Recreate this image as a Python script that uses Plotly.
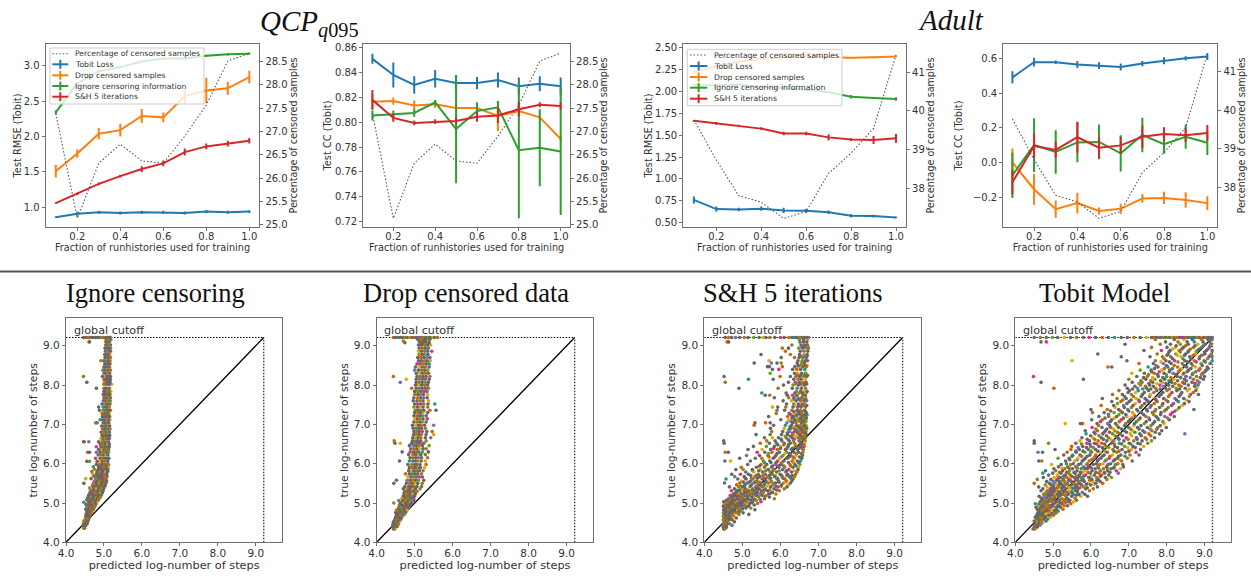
import plotly.graph_objects as go

W, H = 1251, 576
fractions = [0.1, 0.2, 0.3, 0.4, 0.5, 0.6, 0.7, 0.8, 0.9, 1.0]
series_names = ["Tobit Loss", "Drop censored samples", "Ignore censoring information", "S&H 5 iterations"]
pct_name = "Percentage of censored samples"

qcp_pct = [27.39, 25.14, 26.32, 26.73, 26.37, 26.32, 26.9, 27.57, 28.51, 28.68]
adult_pct = [39.77, 38.73, 37.81, 37.64, 37.22, 37.4, 38.39, 38.91, 39.55, 41.45]

qcp_rmse = [0.86, 0.91, 0.93, 0.92, 0.93, 0.93, 0.92, 0.94, 0.93, 0.94]
qcp_rmse_err = [0.01, 0.03, 0.02, 0.02, 0.02, 0.02, 0.02, 0.02, 0.02, 0.02]
qcp_drop = [1.51, 1.76, 2.04, 2.09, 2.29, 2.27, 2.57, 2.65, 2.68, 2.84]
qcp_drop_err = [0.09, 0.06, 0.08, 0.09, 0.10, 0.07, 0.10, 0.18, 0.09, 0.09]
qcp_ign = [2.34, 2.75, 2.92, 2.98, 3.06, 3.10, 3.10, 3.14, 3.16, 3.17]
qcp_ign_err = [0.03, 0.02, 0.02, 0.02, 0.02, 0.02, 0.02, 0.015, 0.015, 0.015]
qcp_sh = [1.06, 1.19, 1.33, 1.44, 1.54, 1.62, 1.78, 1.86, 1.90, 1.94]
qcp_sh_err = [0.01, 0.02, 0.02, 0.02, 0.04, 0.04, 0.05, 0.04, 0.04, 0.04]

qcp_cc = [0.851, 0.838, 0.830, 0.835, 0.8315, 0.8315, 0.834, 0.829, 0.831, 0.829]
qcp_cc_err = [0.004, 0.010, 0.007, 0.007, 0.006, 0.005, 0.006, 0.007, 0.006, 0.007]
qcp_cc_drop = [0.8165, 0.817, 0.8135, 0.8145, 0.8115, 0.8115, 0.805, 0.809, 0.804, 0.7865]
qcp_cc_drop_err = [0.006, 0.003, 0.004, 0.003, 0.002, 0.003, 0.012, 0.003, 0.002, 0.002]
qcp_cc_ign = [0.8055, 0.8065, 0.8075, 0.816, 0.7945, 0.809, 0.812, 0.7775, 0.7795, 0.7765]
qcp_cc_ign_err = [0.004, 0.003, 0.003, 0.002, 0.0435, 0.007, 0.005, 0.0547, 0.031, 0.051]
qcp_cc_sh = [0.818, 0.8035, 0.7995, 0.8005, 0.801, 0.8045, 0.8055, 0.8105, 0.814, 0.813]
qcp_cc_sh_err = [0.008, 0.003, 0.002, 0.002, 0.003, 0.004, 0.006, 0.006, 0.002, 0.003]

adult_rmse = [0.76, 0.655, 0.65, 0.66, 0.64, 0.635, 0.62, 0.58, 0.575, 0.56]
adult_rmse_err = [0.04, 0.03, 0.02, 0.025, 0.03, 0.025, 0.02, 0.02, 0.015, 0.01]
adult_drop = [2.22, 2.29, 2.34, 2.37, 2.39, 2.40, 2.39, 2.385, 2.39, 2.40]
adult_drop_err = [0.02, 0.01, 0.01, 0.01, 0.01, 0.01, 0.01, 0.01, 0.01, 0.01]
adult_ign = [2.07, 2.07, 2.08, 2.05, 2.04, 2.02, 1.99, 1.94, 1.925, 1.915]
adult_ign_err = [0.01, 0.01, 0.01, 0.01, 0.01, 0.01, 0.01, 0.02, 0.01, 0.02]
adult_sh = [1.665, 1.635, 1.61, 1.575, 1.52, 1.52, 1.475, 1.45, 1.445, 1.465]
adult_sh_err = [0.01, 0.015, 0.01, 0.015, 0.02, 0.02, 0.035, 0.015, 0.045, 0.05]

adult_cc = [0.49, 0.578, 0.577, 0.565, 0.558, 0.55, 0.57, 0.586, 0.60, 0.61]
adult_cc_err = [0.035, 0.025, 0.01, 0.02, 0.02, 0.02, 0.015, 0.02, 0.012, 0.02]
adult_cc_drop = [0.0, -0.155, -0.27, -0.235, -0.28, -0.268, -0.208, -0.205, -0.217, -0.235]
adult_cc_drop_err = [0.08, 0.09, 0.05, 0.06, 0.02, 0.03, 0.025, 0.035, 0.045, 0.04]
adult_cc_ign = [-0.075, 0.10, 0.06, 0.115, 0.118, 0.052, 0.158, 0.105, 0.148, 0.113]
adult_cc_ign_err = [0.13, 0.155, 0.125, 0.115, 0.10, 0.105, 0.10, 0.055, 0.07, 0.07]
adult_cc_sh = [-0.115, 0.095, 0.072, 0.145, 0.085, 0.098, 0.148, 0.163, 0.157, 0.17]
adult_cc_sh_err = [0.07, 0.07, 0.045, 0.09, 0.06, 0.05, 0.065, 0.04, 0.04, 0.045]

cutoff = 9.21
axis_lo = 4.0

# (true log-steps, [predicted log-steps at that level])
ignore_rows = [
 (4.36,[4.47,4.49]),(4.42,[4.45,4.48,4.52]),(4.48,[4.46,4.5,4.53,4.56]),(4.54,[4.47,4.51,4.55,4.58]),
 (4.6,[4.5,4.54,4.57,4.6]),(4.66,[4.52,4.55,4.59,4.62]),(4.72,[4.53,4.57,4.61,4.65]),(4.78,[4.55,4.59,4.63,4.68]),
 (4.84,[4.52,4.57,4.62,4.66,4.72]),(4.9,[4.55,4.6,4.65,4.7,4.76]),(4.96,[4.53,4.6,4.66,4.72,4.78]),
 (5.02,[4.47,4.6,4.65,4.7,4.76,4.82]),(5.08,[4.55,4.62,4.68,4.74,4.8,4.86]),(5.14,[4.58,4.66,4.72,4.78,4.84,4.9]),
 (5.2,[4.6,4.68,4.74,4.8,4.86,4.93]),(5.26,[4.63,4.7,4.76,4.82,4.88,4.96]),(5.32,[4.65,4.72,4.79,4.85,4.91,4.98]),
 (5.38,[4.62,4.72,4.8,4.86,4.93,5.0]),(5.44,[4.7,4.78,4.84,4.9,4.96,5.03]),(5.5,[4.47,4.72,4.8,4.87,4.93,4.99,5.05]),
 (5.56,[4.75,4.82,4.89,4.95,5.01,5.07]),(5.62,[4.52,4.66,4.78,4.85,4.92,4.98,5.06]),(5.68,[4.74,4.82,4.88,4.95,5.02,5.08]),
 (5.74,[4.7,4.8,4.87,4.94,5.0,5.07]),(5.8,[4.68,4.82,4.9,4.96,5.03,5.1]),(5.86,[4.75,4.85,4.92,4.98,5.04,5.1]),
 (5.92,[4.72,4.86,4.93,4.99,5.05,5.11]),(5.98,[4.8,4.88,4.95,5.01,5.07,5.12]),(6.06,[4.55,4.62,4.82,4.9,4.96,5.02,5.1]),
 (6.14,[4.78,4.9,4.97,5.03,5.08,5.13]),(6.22,[4.85,4.92,4.98,5.04,5.1]),(6.29,[4.57,4.62,4.8,4.9,4.97,5.05,5.12]),
 (6.36,[4.86,4.93,5.0,5.06,5.12]),(6.43,[4.8,4.92,4.98,5.04,5.1,5.14]),(6.5,[4.9,4.96,5.02,5.08,5.14]),
 (6.56,[4.46,4.48,4.6,4.86,4.95,5.0,5.06,5.12]),(6.64,[4.92,4.98,5.03,5.09,5.14]),(6.72,[4.95,5.0,5.06,5.1,5.15]),
 (6.8,[4.93,4.99,5.04,5.09,5.14]),(6.88,[4.96,5.01,5.06,5.11,5.16]),(6.96,[4.94,5.0,5.05,5.1,5.15]),
 (7.04,[4.78,4.82,4.98,5.03,5.08,5.13]),(7.12,[4.9,4.97,5.02,5.07,5.12,5.16]),(7.2,[4.96,5.02,5.06,5.11,5.15]),
 (7.28,[4.95,5.0,5.05,5.1,5.14]),(7.36,[4.88,4.98,5.03,5.08,5.13,5.17]),(7.44,[4.86,4.98,5.04,5.09,5.14]),
 (7.52,[4.95,5.02,5.06,5.11,5.16]),(7.6,[4.98,5.03,5.08,5.12,5.17]),(7.68,[5.0,5.04,5.08,5.13,5.17]),
 (7.76,[4.98,5.03,5.07,5.12,5.16]),(7.84,[5.0,5.05,5.09,5.13,5.18]),(7.92,[4.8,5.0,5.04,5.09,5.14]),
 (8.02,[5.0,5.05,5.1,5.14,5.2]),(8.07,[4.55,5.02,5.07,5.12,5.16]),(8.14,[5.0,5.04,5.09,5.13,5.17]),
 (8.22,[4.46,4.96,5.03,5.08,5.13,5.17]),(8.3,[5.0,5.05,5.1,5.15]),(8.38,[4.97,5.02,5.07,5.12,5.17]),
 (8.46,[5.0,5.05,5.1,5.15]),(8.54,[5.02,5.06,5.11,5.16]),(8.62,[4.92,5.0,5.05,5.1,5.16]),
 (8.7,[5.03,5.07,5.12,5.17]),(8.78,[5.02,5.06,5.11,5.16]),(8.86,[5.04,5.08,5.13,5.17]),
 (8.94,[5.03,5.07,5.12,5.17]),(9.02,[5.05,5.09,5.13,5.17]),(9.1,[4.6,4.62,5.05,5.1,5.15]),
 (9.16,[5.06,5.1,5.14,5.18]),
 (9.21,[4.46,4.5,4.54,4.58,4.62,4.66,4.7,4.74,4.78,4.82,4.86,4.9,4.94,4.98,5.02,5.06,5.1,5.14,5.17]),
]

drop_rows = [
 (4.34,[4.44,4.47]),(4.4,[4.42,4.46,4.5,4.54]),(4.46,[4.43,4.48,4.52,4.57]),(4.52,[4.44,4.5,4.55,4.6]),
 (4.58,[4.48,4.53,4.58,4.63]),(4.64,[4.5,4.56,4.61,4.66]),(4.7,[4.52,4.58,4.63,4.69,4.74]),(4.76,[4.5,4.56,4.62,4.68,4.76]),
 (4.82,[4.52,4.6,4.66,4.72,4.8]),(4.88,[4.58,4.64,4.7,4.76,4.84]),(4.94,[4.6,4.67,4.73,4.8,4.88]),
 (5.0,[4.45,4.62,4.7,4.76,4.83,4.92]),(5.06,[4.58,4.68,4.75,4.82,4.9,4.98]),(5.12,[4.66,4.74,4.81,4.88,4.97]),
 (5.18,[4.7,4.77,4.84,4.92,5.0]),(5.24,[4.72,4.8,4.87,4.95,5.02]),(5.3,[4.74,4.82,4.89,4.97,5.06]),
 (5.36,[4.7,4.8,4.87,4.94,5.02,5.14]),(5.42,[4.74,4.84,4.91,4.98,5.06,5.18]),(5.5,[4.45,4.78,4.86,4.93,5.0,5.08,5.2]),
 (5.58,[4.52,4.8,4.88,4.95,5.02,5.1,5.24]),(5.66,[4.82,4.9,4.97,5.04,5.12,5.2]),(5.74,[4.76,4.86,4.93,5.0,5.08,5.18]),
 (5.82,[4.84,4.92,4.98,5.05,5.12,5.22]),(5.9,[4.86,4.93,5.0,5.07,5.15,5.26]),(5.98,[4.82,4.92,5.0,5.06,5.14,5.3]),
 (6.07,[4.6,4.86,4.95,5.02,5.08,5.17,5.28]),(6.15,[4.88,4.96,5.03,5.1,5.18,5.34]),(6.23,[4.84,4.95,5.02,5.08,5.16,5.28]),
 (6.3,[4.67,4.88,4.97,5.04,5.1,5.2,5.36]),(6.38,[4.9,4.98,5.05,5.12,5.22,5.3]),(6.46,[4.86,4.96,5.04,5.11,5.2,5.38]),
 (6.52,[4.48,4.62,4.92,5.0,5.06,5.14,5.24]),(6.58,[4.46,4.94,5.02,5.08,5.16,5.3]),(6.66,[4.95,5.02,5.09,5.16,5.28,5.42]),
 (6.74,[4.97,5.04,5.11,5.18,5.3,5.5]),(6.82,[4.98,5.05,5.12,5.2,5.32,5.46]),(6.9,[4.96,5.04,5.11,5.18,5.28]),
 (6.98,[4.94,5.03,5.1,5.17,5.26,5.5]),(7.06,[4.98,5.06,5.13,5.2,5.3]),(7.14,[5.0,5.07,5.14,5.22,5.33]),
 (7.22,[4.98,5.06,5.13,5.2,5.3]),(7.3,[5.0,5.08,5.15,5.22,5.34]),(7.36,[5.02,5.09,5.16,5.24,5.4,5.56]),
 (7.44,[4.98,5.07,5.14,5.22,5.34]),(7.52,[5.0,5.08,5.16,5.24,5.35,5.53]),(7.6,[4.96,5.06,5.14,5.22,5.36]),
 (7.68,[4.98,5.08,5.16,5.24,5.33]),(7.76,[5.0,5.08,5.15,5.23,5.34]),(7.84,[5.0,5.08,5.16,5.24,5.32]),
 (7.92,[4.92,5.04,5.12,5.2,5.28,5.36]),(8.0,[5.02,5.1,5.18,5.26,5.34]),(8.07,[4.62,5.04,5.12,5.2,5.28,5.36]),
 (8.15,[4.78,5.04,5.12,5.2,5.28,5.38]),(8.22,[4.44,5.06,5.14,5.22,5.3,5.4]),(8.3,[5.04,5.12,5.2,5.28,5.36]),
 (8.38,[5.0,5.1,5.18,5.26,5.34]),(8.46,[5.02,5.12,5.2,5.28,5.38]),(8.54,[5.06,5.14,5.22,5.3,5.38]),
 (8.62,[5.1,5.18,5.26,5.33,5.41]),(8.7,[5.08,5.16,5.24,5.32,5.4]),(8.78,[5.12,5.2,5.27,5.35]),
 (8.86,[5.1,5.18,5.26,5.34,5.45]),(8.94,[5.12,5.2,5.28,5.36]),(9.02,[5.1,5.18,5.26,5.34,5.42]),
 (9.08,[4.74,5.14,5.22,5.3,5.38]),(9.12,[4.7,5.12,5.2,5.28,5.36]),(9.17,[5.08,5.16,5.24,5.32,5.4]),
 (9.21,[4.44,4.5,4.56,4.62,4.68,4.74,4.8,4.86,4.92,4.98,5.04,5.1,5.16,5.22,5.28,5.34,5.4,5.46,5.52,5.6]),
]

sh_rows = [
 (4.34,[4.51,4.54]),(4.38,[4.5,4.53,4.58]),(4.43,[4.52,4.56,4.73]),(4.47,[4.5,4.55,4.61,4.67]),(4.52,[4.53,4.58,4.79]),
 (4.57,[4.5,4.54,4.6,4.65,4.74]),(4.62,[4.52,4.57,4.63,4.84]),(4.67,[4.5,4.55,4.61,4.69,4.77]),(4.71,[4.53,4.58,4.66,4.91,5.17]),
 (4.75,[4.5,4.56,4.62,4.72,4.83,5.02]),(4.79,[4.52,4.59,4.65,4.76,4.94]),(4.83,[4.51,4.55,4.63,4.7,4.87,5.33]),
 (4.87,[4.53,4.6,4.67,4.8,4.93,5.09,5.22]),(4.91,[4.5,4.57,4.64,4.74,4.85,5.0,5.13]),(4.95,[4.52,4.6,4.71,4.79,4.96,5.07,5.31]),
 (4.99,[4.55,4.63,4.76,4.88,5.04,5.19,5.4]),(5.03,[4.51,4.66,4.73,4.85,4.98,5.11,5.27,5.49]),(5.07,[4.58,4.7,4.8,4.93,5.06,5.23,5.36]),
 (5.11,[4.64,4.78,4.87,5.01,5.14,5.3,5.58,5.84]),(5.15,[4.72,4.83,4.96,5.09,5.25,5.43,5.71]),(5.19,[4.68,4.8,4.91,5.03,5.18,5.37,5.52,5.63]),
 (5.23,[4.76,4.89,4.99,5.15,5.28,5.47,5.69,5.88]),(5.27,[4.84,4.94,5.1,5.2,5.39,5.55,5.79]),(5.31,[4.71,4.87,5.04,5.17,5.32,5.5,5.66,5.97]),
 (5.36,[4.79,4.97,5.08,5.27,5.44,5.6,5.83,6.1]),(5.41,[4.66,4.9,5.01,5.19,5.35,5.53,5.74,5.94,6.17]),(5.46,[4.85,5.07,5.24,5.41,5.57,5.8,6.03,6.21]),
 (5.51,[4.53,4.93,5.13,5.3,5.48,5.69,5.87,6.08,6.26]),(5.56,[4.98,5.22,5.37,5.62,5.76,5.95,6.16,6.3]),(5.61,[4.57,4.88,5.1,5.28,5.52,5.7,5.91,6.12,6.33]),
 (5.67,[4.8,5.05,5.33,5.46,5.66,5.85,6.05,6.24,6.37]),(5.73,[4.72,4.95,5.16,5.42,5.6,5.79,5.99,6.19,6.4]),(5.79,[5.09,5.3,5.53,5.73,5.9,6.14,6.29,6.43]),
 (5.85,[4.83,5.02,5.26,5.47,5.68,5.83,6.06,6.22,6.46]),(5.91,[4.97,5.37,5.58,5.77,5.96,6.11,6.33,6.48]),(5.98,[5.14,5.49,5.64,5.86,6.02,6.25,6.38,6.51]),
 (6.07,[4.54,4.69,5.21,5.55,5.72,5.93,6.09,6.31,6.44,6.53]),(6.14,[4.93,5.34,5.51,5.81,5.98,6.18,6.36,6.56]),(6.21,[5.11,5.45,5.67,5.88,6.07,6.27,6.41,6.58]),
 (6.29,[4.55,4.63,5.39,5.59,5.78,5.97,6.16,6.35,6.47,6.59]),(6.36,[5.15,5.52,5.74,5.92,6.13,6.28,6.45,6.6]),(6.44,[5.29,5.63,5.84,6.01,6.2,6.39,6.52,6.62]),
 (6.52,[4.52,5.47,5.71,5.9,6.1,6.26,6.37,6.55,6.63]),(6.58,[4.51,5.64,5.86,6.04,6.23,6.34,6.49,6.65]),(6.66,[5.58,5.79,5.95,6.15,6.31,6.46,6.57,6.66]),
 (6.74,[5.36,5.73,6.03,6.19,6.33,6.5,6.61,6.68]),(6.82,[5.77,6.06,6.24,6.38,6.48,6.59,6.67]),(6.9,[5.74,6.1,6.27,6.35,6.51,6.57,6.69]),
 (6.98,[5.31,5.82,6.13,6.29,6.43,6.53,6.62,6.68]),(7.04,[5.33,5.61,5.73,6.17,6.32,6.41,6.55,6.64]),(7.12,[6.01,6.21,6.36,6.47,6.56,6.66]),
 (7.2,[5.69,6.19,6.34,6.42,6.58,6.65]),(7.28,[5.89,6.23,6.37,6.49,6.55,6.68]),(7.36,[5.91,6.11,6.3,6.44,6.52,6.63]),
 (7.44,[5.79,5.93,6.14,6.33,6.45,6.54,6.66]),(7.52,[6.16,6.35,6.47,6.57,6.64]),(7.6,[6.07,6.29,6.41,6.53,6.62,6.69]),
 (7.68,[5.84,6.22,6.36,6.46,6.56,6.67]),(7.74,[5.6,5.72,6.18,6.32,6.43,6.59,6.65]),(7.8,[5.51,6.15,6.38,6.5,6.58,6.68]),
 (7.92,[4.91,5.94,6.31,6.44,6.55,6.66]),(8.0,[6.08,6.33,6.47,6.57,6.63]),(8.07,[4.55,6.21,6.39,6.49,6.59,6.67]),
 (8.15,[5.16,5.81,6.35,6.46,6.54,6.65]),(8.22,[4.52,5.99,6.26,6.4,6.5,6.6,6.69]),(8.3,[5.73,6.37,6.45,6.56,6.66]),
 (8.4,[5.79,5.96,6.32,6.43,6.53,6.64]),(8.47,[5.66,5.71,6.05,6.38,6.48,6.58,6.68]),(8.56,[5.31,5.76,5.91,6.02,6.44,6.55,6.63]),
 (8.62,[5.7,6.46,6.57,6.65,6.71]),(8.7,[6.02,6.37,6.49,6.59,6.68]),(8.78,[5.49,6.26,6.5,6.61,6.7]),
 (8.86,[6.13,6.52,6.62,6.72]),(8.94,[6.05,6.21,6.48,6.58,6.67,6.73]),(9.02,[6.3,6.54,6.63,6.71]),(9.1,[4.6,4.64,6.51,6.6,6.69]),
 (9.16,[6.5,6.61,6.72]),
 (9.21,[4.55,4.64,4.72,4.82,4.93,5.05,5.15,5.3,5.44,5.55,5.62,5.72,5.85,6.0,6.1,6.22,6.3,6.36,6.42,6.46,6.5,6.54,6.58,6.62,6.66,6.7,6.74]),
 # denser fill between the rows above
 (4.49,[4.6,4.52,4.57]),(4.6,[4.57,4.69,4.52]),(4.69,[4.64,4.72,4.56]),(4.77,[4.55,4.68,4.78,4.89]),(4.85,[4.57,4.66,4.75,4.9,5.0]),
 (4.93,[4.55,4.68,4.82,4.91,5.03,5.17]),(5.01,[4.6,4.69,4.81,4.95,5.09,5.25]),(5.09,[4.67,4.75,4.9,5.04,5.17,5.33,5.47]),
 (5.17,[4.75,4.86,5.0,5.12,5.29,5.41,5.6]),(5.25,[4.81,4.92,5.06,5.24,5.34,5.49,5.74]),(5.33,[4.83,4.93,5.12,5.26,5.41,5.58,5.72,5.9]),
 (5.43,[4.95,5.05,5.21,5.38,5.5,5.65,5.88,6.02]),(5.53,[5.03,5.18,5.34,5.44,5.61,5.78,5.96,6.13]),(5.63,[5.08,5.24,5.4,5.58,5.74,5.93,6.07,6.27]),
 (5.7,[5.22,5.37,5.54,5.71,5.87,6.03,6.17,6.31]),(5.82,[5.27,5.43,5.61,5.8,5.97,6.16,6.36]),(5.94,[5.45,5.6,5.79,5.92,6.09,6.27,6.41]),
 (6.03,[5.58,5.75,5.89,6.04,6.21,6.34,6.48]),(6.17,[5.7,5.85,6.02,6.23,6.33,6.5]),(6.26,[5.69,5.91,6.12,6.24,6.42,6.55]),
 (6.39,[5.82,6.0,6.17,6.32,6.48,6.57]),(6.48,[5.93,6.09,6.21,6.41,6.53,6.61]),(6.62,[6.02,6.2,6.36,6.52,6.6]),
 (6.7,[6.13,6.27,6.41,6.54,6.63]),(6.78,[6.18,6.32,6.45,6.56,6.65]),(6.86,[6.22,6.42,6.54,6.63]),(6.94,[6.25,6.38,6.47,6.6,6.66]),
 (7.08,[6.27,6.39,6.5,6.6,6.67]),(7.16,[6.3,6.4,6.52,6.61,6.68]),(7.24,[6.28,6.43,6.53,6.62,6.7]),(7.33,[6.35,6.46,6.57,6.66]),
 (7.48,[6.38,6.49,6.6,6.69]),(7.64,[6.34,6.48,6.58,6.65]),(7.84,[6.42,6.53,6.62,6.7]),(8.03,[6.4,6.52,6.61,6.69]),(8.25,[6.44,6.53,6.63,6.71]),
 (8.5,[6.47,6.56,6.64,6.7]),(8.74,[6.52,6.62,6.7]),(8.98,[6.56,6.64,6.72]),
]

tobit_rows = [
 (4.34,[4.47,4.52]),(4.39,[4.5,4.55,4.59]),(4.44,[4.51,4.58,4.66]),(4.49,[4.53,4.57,4.62,4.71]),(4.54,[4.5,4.55,4.64,4.69,4.81]),
 (4.59,[4.56,4.6,4.68,4.75,4.86]),(4.64,[4.53,4.62,4.67,4.79,4.93]),(4.69,[4.57,4.61,4.73,4.82,4.89,5.01]),(4.74,[4.59,4.66,4.71,4.84,4.97,5.07]),
 (4.79,[4.62,4.69,4.77,4.88,5.04,5.13]),(4.84,[4.58,4.65,4.74,4.83,4.95,5.09,5.26]),(4.89,[4.55,4.67,4.72,4.87,4.92,5.06,5.19]),
 (4.93,[4.6,4.7,4.8,4.91,4.99,5.14,5.29,5.38]),(4.98,[4.53,4.63,4.75,4.85,5.02,5.11,5.23,5.47]),(5.03,[4.66,4.76,4.86,4.94,5.08,5.27,5.41,5.54]),
 (5.07,[4.71,4.78,4.9,5.0,5.16,5.31,5.44,5.62]),(5.12,[4.69,4.83,4.96,5.05,5.21,5.35,5.58]),(5.17,[4.63,4.77,4.89,5.03,5.15,5.34,5.49,5.73,5.91]),
 (5.22,[4.75,4.87,4.98,5.12,5.25,5.4,5.53,5.68,5.84]),(5.27,[4.81,4.93,5.07,5.18,5.37,5.5,5.77]),(5.31,[4.68,4.85,4.97,5.1,5.26,5.43,5.59,5.96]),
 (5.36,[4.73,4.92,5.04,5.22,5.33,5.52,5.66,5.86,6.06]),(5.41,[4.62,4.84,5.01,5.14,5.29,5.47,5.63,5.81,6.17]),(5.46,[4.79,4.95,5.09,5.24,5.39,5.6,5.75,5.99]),
 (5.5,[4.5,4.9,5.05,5.2,5.38,5.55,5.7,5.93,6.13,6.31]),(5.55,[4.83,5.0,5.16,5.3,5.48,5.67,5.82,6.05,6.24]),(5.6,[4.58,4.94,5.12,5.27,5.44,5.64,5.79,6.02,6.19,6.42]),
 (5.65,[4.74,5.03,5.19,5.36,5.56,5.73,5.94,6.15,6.38,6.54]),(5.71,[4.88,5.11,5.32,5.45,5.69,5.86,6.09,6.28,6.47]),(5.76,[4.73,4.99,5.21,5.41,5.58,5.78,5.98,6.21,6.36,6.72]),
 (5.82,[4.8,5.07,5.25,5.43,5.63,5.83,6.03,6.25,6.44,6.67]),(5.87,[5.02,5.31,5.51,5.74,5.91,6.11,6.33,6.53,6.78]),(5.92,[5.14,5.38,5.6,5.8,5.97,6.18,6.41,6.62,6.86]),
 (5.98,[4.96,5.21,5.46,5.67,5.89,6.06,6.23,6.45,6.65,6.84]),(6.07,[4.62,4.7,5.33,5.57,5.77,5.95,6.17,6.37,6.59,6.81,7.09]),(6.14,[5.13,5.42,5.65,5.85,6.08,6.26,6.48,6.69,6.96]),
 (6.22,[5.28,5.52,5.71,5.97,6.13,6.35,6.57,6.79,7.03,7.27]),(6.29,[4.6,4.72,5.37,5.61,5.84,6.01,6.24,6.43,6.68,6.91,7.19]),(6.36,[5.05,5.47,5.69,5.93,6.12,6.33,6.58,6.82,7.07,7.31]),
 (6.44,[5.49,5.78,5.99,6.21,6.4,6.63,6.89,7.11,7.39]),(6.52,[4.5,4.88,5.6,5.89,6.09,6.28,6.54,6.75,7.01,7.24,7.5]),(6.58,[4.5,5.71,5.96,6.19,6.42,6.6,6.87,7.13,7.35,7.6]),
 (6.66,[5.76,6.05,6.27,6.46,6.71,6.93,7.2,7.43,7.68]),(6.76,[5.87,6.11,6.31,6.57,6.77,7.04,7.29,7.53,7.81,8.48]),(6.84,[5.85,6.17,6.38,6.63,6.88,7.09,7.37,7.61,7.87]),
 (6.92,[6.03,6.29,6.52,6.73,6.99,7.23,7.49,7.77,7.99]),(7.02,[5.32,5.72,5.78,6.16,6.44,6.65,6.92,7.15,7.41,7.64,7.93]),(7.12,[6.02,6.3,6.55,6.8,7.03,7.26,7.55,7.79,8.07]),
 (7.2,[6.21,6.47,6.68,6.95,7.17,7.45,7.72,7.95,8.2]),(7.3,[6.04,6.35,6.61,6.83,7.1,7.33,7.62,7.85,8.15]),(7.38,[6.0,6.43,6.73,6.97,7.21,7.47,7.71,7.99,8.29,8.72]),
 (7.48,[6.27,6.6,6.86,7.11,7.35,7.59,7.88,8.13,8.41]),(7.58,[6.55,6.79,7.01,7.28,7.51,7.75,8.03,8.31,8.59]),(7.66,[6.3,6.69,6.93,7.19,7.43,7.69,7.92,8.22,8.45]),
 (7.76,[6.57,6.83,7.07,7.36,7.57,7.85,8.09,8.37,8.63,8.84]),(7.86,[6.74,7.02,7.25,7.52,7.74,8.01,8.27,8.55,8.77]),(7.92,[5.02,6.96,7.23,7.47,7.71,7.97,8.25,8.49,8.8]),
 (8.0,[6.9,7.31,7.55,7.82,8.05,8.32,8.57,8.83]),(8.07,[4.68,7.09,7.35,7.63,7.89,8.13,8.42,8.67,8.86]),(8.15,[5.8,7.0,7.45,7.69,7.95,8.19,8.47,8.71,8.97]),
 (8.22,[4.48,7.21,7.49,7.78,8.0,8.28,8.51,8.79,9.0]),(8.3,[7.08,7.41,7.67,7.93,8.17,8.45,8.69,8.95]),(8.38,[7.3,7.59,7.87,8.08,8.35,8.58,8.85,9.04]),
 (8.46,[6.45,6.55,7.51,7.77,8.03,8.29,8.53,8.76,9.07]),(8.55,[7.27,7.65,7.91,8.12,8.41,8.65,8.91,9.15]),(8.62,[5.5,6.95,7.7,7.98,8.21,8.48,8.73,8.99,9.2]),
 (8.72,[6.8,7.56,7.89,8.11,8.38,8.61,8.87,9.12,9.2]),(8.79,[6.18,7.75,8.04,8.24,8.5,8.75,9.01,9.18]),(8.88,[7.4,7.86,8.09,8.33,8.59,8.81,9.05,9.2]),
 (8.96,[7.6,8.01,8.23,8.44,8.71,8.93,9.13]),(9.04,[6.9,7.83,8.1,8.36,8.57,8.82,9.02,9.17]),(9.1,[4.68,4.82,7.97,8.3,8.54,8.73,8.96,9.14]),
 (9.16,[7.7,8.2,8.46,8.68,8.92,9.09,9.2]),
 (9.21,[4.5,4.66,4.82,4.98,5.12,5.3,5.46,5.62,5.8,5.95,6.12,6.3,6.46,6.62,6.8,6.96,7.14,7.3,7.46,7.6,7.66,7.72,7.78,7.84,7.9,7.96,8.02,8.08,8.14,8.2,8.26,8.32,8.38,8.44,8.5,8.56,8.62,8.68,8.74,8.8,8.86,8.92,8.98,9.04,9.1,9.16,9.2]),
 # denser fill between the rows above
 (4.62,[4.7,4.77,4.58]),(4.72,[4.64,4.78,4.95]),(4.81,[4.7,4.81,4.9,5.03]),(4.91,[4.69,4.78,4.96,5.11,5.17]),(5.01,[4.72,4.83,5.05,5.18,5.33]),
 (5.1,[4.73,4.93,5.02,5.24,5.39]),(5.2,[4.84,4.94,5.08,5.19,5.32,5.61]),(5.29,[4.91,5.02,5.15,5.29,5.46,5.64]),(5.39,[4.98,5.11,5.23,5.42,5.57,5.71,5.9]),
 (5.48,[5.03,5.17,5.33,5.52,5.65,5.88,6.08]),(5.58,[5.09,5.25,5.41,5.6,5.76,5.97,6.16]),(5.68,[5.13,5.28,5.49,5.62,5.81,6.0,6.25]),
 (5.78,[5.17,5.36,5.55,5.72,5.92,6.13,6.35,6.5]),(5.89,[5.23,5.42,5.64,5.83,6.01,6.2,6.43,6.6]),(6.0,[5.35,5.53,5.73,5.9,6.14,6.32,6.52,6.71]),
 (6.1,[5.44,5.64,5.81,6.02,6.19,6.41,6.63,6.76]),(6.19,[5.5,5.75,5.9,6.11,6.3,6.5,6.73,6.9]),(6.32,[5.6,5.79,6.0,6.18,6.38,6.61,6.74,7.0]),
 (6.41,[5.66,5.88,6.06,6.3,6.47,6.7,6.97,7.17]),(6.5,[5.75,5.97,6.15,6.36,6.62,6.81,7.05,7.3]),(6.62,[5.9,6.1,6.33,6.52,6.74,6.98,7.22,7.47]),
 (6.71,[5.99,6.21,6.41,6.64,6.83,7.08,7.33,7.58]),(6.8,[6.08,6.35,6.49,6.7,6.94,7.16,7.42,7.7]),(6.88,[6.13,6.42,6.59,6.81,7.05,7.27,7.56,7.74]),
 (6.97,[6.2,6.49,6.69,6.89,7.13,7.32,7.59,7.83]),(7.07,[6.25,6.51,6.75,6.99,7.2,7.46,7.68,7.9]),(7.16,[6.37,6.62,6.86,7.08,7.3,7.53,7.76,8.02]),
 (7.25,[6.46,6.74,6.92,7.14,7.39,7.65,7.84,8.1]),(7.34,[6.52,6.78,7.0,7.24,7.49,7.69,7.94,8.22]),(7.43,[6.64,6.88,7.07,7.31,7.56,7.81,8.04,8.33]),
 (7.53,[6.7,6.95,7.17,7.42,7.67,7.9,8.18,8.47]),(7.62,[6.84,7.06,7.26,7.47,7.72,7.98,8.26,8.52]),(7.71,[6.89,7.12,7.33,7.55,7.8,8.05,8.33,8.6]),
 (7.81,[6.98,7.18,7.41,7.66,7.9,8.14,8.4,8.7]),(7.9,[7.1,7.37,7.58,7.83,8.07,8.34,8.6]),(7.97,[7.16,7.44,7.65,7.91,8.16,8.38,8.74]),
 (8.04,[7.27,7.53,7.74,7.98,8.22,8.47,8.75]),(8.11,[7.32,7.58,7.84,8.06,8.29,8.52,8.81]),(8.19,[7.39,7.63,7.9,8.11,8.37,8.62,8.89]),
 (8.27,[7.52,7.76,7.99,8.24,8.43,8.68,8.92]),(8.34,[7.6,7.81,8.07,8.31,8.54,8.77,9.01]),(8.42,[7.68,7.94,8.15,8.39,8.64,8.88,9.1]),
 (8.5,[7.72,7.99,8.2,8.46,8.69,8.94]),(8.59,[7.85,8.07,8.3,8.55,8.78,9.02]),(8.67,[7.93,8.16,8.43,8.64,8.86,9.08]),
 (8.76,[8.01,8.28,8.47,8.7,8.93,9.16]),(8.84,[8.06,8.36,8.56,8.78,9.0]),(8.92,[8.16,8.4,8.63,8.86,9.09]),(9.0,[8.25,8.5,8.75,8.97,9.15]),
]

# ---- style ----
COL = {"tobit": "#1f77b4", "drop": "#ff7f0e", "ign": "#2ca02c", "sh": "#d62728"}
GRAY, BROWN, YELLOW, ORANGE, PURPLE, GREEN, PINK, TEAL = ("#666666", "#a6761d", "#e6ab02", "#d95f02",
                                                         "#7570b3", "#66a61e", "#e7298a", "#1b9e77")
cycle = [GRAY, BROWN, GRAY, YELLOW, GRAY, ORANGE, GRAY, PURPLE, GRAY, BROWN, GRAY, GREEN, GRAY, YELLOW, GRAY, BROWN, GRAY,
         PINK, GRAY, ORANGE, GRAY, TEAL, GRAY]
draw_rank = {TEAL: 0, PINK: 1, GREEN: 2, PURPLE: 3, YELLOW: 4, ORANGE: 5, GRAY: 6, BROWN: 7}
TXT = "#333333"
SPINE = "#707070"
TICK_FONT = dict(family="DejaVu Sans", size=10, color=TXT)


def px(x):
    return x / W


def py(y):
    return 1 - y / H


def flatten(rows):
    xs, ys = [], []
    for y, row in rows:
        for x in row:
            xs.append(x)
            ys.append(y)
    return xs, ys


fig = go.Figure()
layout = dict(width=W, height=H, margin=dict(l=0, r=0, t=0, b=0, autoexpand=False), paper_bgcolor="white",
              plot_bgcolor="white", autosize=False, showlegend=False, annotations=[], shapes=[])

AX = dict(showline=True, mirror=True, linecolor=SPINE, linewidth=1.2, ticks="outside", ticklen=3, tickwidth=1,
          tickcolor=SPINE, showgrid=False, zeroline=False, tickfont=TICK_FONT)

top_panels = [
    dict(left=45.7, right=259.3, xr=[0.053, 1.0465], yr=[0.726, 3.302], y2r=[24.96, 28.87], label="Test RMSE (Tobit)",
         dy=0.5, t0=1.0, fmt=".1f", y2d=0.5, y20=25, y2fmt=".1f", pct=qcp_pct, ls=0, rs=2,
         s=[(qcp_rmse, qcp_rmse_err), (qcp_drop, qcp_drop_err), (qcp_ign, qcp_ign_err), (qcp_sh, qcp_sh_err)]),
    dict(left=363.3, right=570, xr=[0.0565, 1.0445], yr=[0.716, 0.8627], y2r=[24.96, 28.87], label="Test CC (Tobit)",
         dy=0.02, t0=0.72, fmt=".2f", y2d=0.5, y20=25, y2fmt=".1f", pct=qcp_pct, ls=1, rs=2,
         s=[(qcp_cc, qcp_cc_err), (qcp_cc_drop, qcp_cc_drop_err), (qcp_cc_ign, qcp_cc_ign_err), (qcp_cc_sh, qcp_cc_sh_err)]),
    dict(left=683.3, right=906, xr=[0.053, 1.0445], yr=[0.454, 2.539], y2r=[37.007, 41.724], label="Test RMSE (Tobit)",
         dy=0.25, t0=0.5, fmt=".2f", y2d=1, y20=38, y2fmt="d", pct=adult_pct, ls=0, rs=1,
         s=[(adult_rmse, adult_rmse_err), (adult_drop, adult_drop_err), (adult_ign, adult_ign_err), (adult_sh, adult_sh_err)]),
    dict(left=1003.3, right=1217.3, xr=[0.058, 1.046], yr=[-0.371, 0.681], y2r=[37.005, 41.686], label="Test CC (Tobit)",
         dy=0.2, t0=-0.2, fmt=".1f", y2d=1, y20=38, y2fmt="d", pct=adult_pct, ls=8, rs=1,
         s=[(adult_cc, adult_cc_err), (adult_cc_drop, adult_cc_drop_err), (adult_cc_ign, adult_cc_ign_err), (adult_cc_sh, adult_cc_sh_err)]),
]
TOP, BOT = 44.3, 226.7
keys = ["tobit", "drop", "ign", "sh"]

for i, p in enumerate(top_panels):
    n = i + 1
    ax, ay, ay2 = f"x{n}", f"y{n}", f"y{n + 4}"
    layout[f"xaxis{n}"] = dict(AX, domain=[px(p["left"]), px(p["right"])], range=p["xr"], anchor=ay, tick0=0.2, dtick=0.2,
                               tickformat=".1f", ticklabelstandoff=-3,
                               title=dict(text="Fraction of runhistories used for training",
                                          font=dict(TICK_FONT, size=9.7), standoff=0))
    layout[f"yaxis{n}"] = dict(AX, domain=[py(BOT), py(TOP)], range=p["yr"], anchor=ax, tick0=p["t0"], dtick=p["dy"],
                               tickformat=p["fmt"], title=dict(text=p["label"], font=dict(TICK_FONT, size=9.8), standoff=p["ls"]))
    layout[f"yaxis{n + 4}"] = dict(AX, domain=[py(BOT), py(TOP)], range=p["y2r"], anchor=ax, overlaying=ay, side="right",
                                   tick0=p["y20"], dtick=p["y2d"], tickformat=p["y2fmt"],
                                   title=dict(text=pct_name, font=dict(TICK_FONT, size=9.6), standoff=p["rs"]))
    fig.add_trace(go.Scatter(x=fractions, y=p["pct"], xaxis=ax, yaxis=ay2, mode="lines", name=pct_name,
                             line=dict(color="#555555", width=1.1, dash="1.5px,2px")))
    for k, name, (vals, errs) in zip(keys, series_names, p["s"]):
        fig.add_trace(go.Scatter(x=fractions, y=vals, xaxis=ax, yaxis=ay, mode="lines", name=name,
                                 line=dict(color=COL[k], width=2),
                                 error_y=dict(type="data", array=errs, visible=True, thickness=2, width=0, color=COL[k])))

# keys drawn as in the reference's compact legends
legend_labels = [pct_name] + series_names
legend_colors = ["#555555", COL["tobit"], COL["drop"], COL["ign"], COL["sh"]]
legend_boxes = [
    dict(box=(50, 48, 204, 104), rows=[53.7, 64.3, 75.3, 86, 96.7], glyph=(52.3, 68.3), text=74.3),
    dict(box=(687.3, 49.3, 842, 105.7), rows=[55, 66, 77, 87.7, 98.7], glyph=(690, 707.3), text=712.7),
]
for lb in legend_boxes:
    x0, y0, x1, y1 = lb["box"]
    layout["shapes"].append(dict(type="rect", xref="paper", yref="paper", x0=px(x0), x1=px(x1), y0=py(y1), y1=py(y0),
                                 fillcolor="rgba(255,255,255,0.8)", line=dict(color="#cccccc", width=1), layer="above"))
    g0, g1 = lb["glyph"]
    for j, (lab, col, ry) in enumerate(zip(legend_labels, legend_colors, lb["rows"])):
        if j == 0:
            line = dict(color=col, width=1.1, dash="1.5px,2px")
        else:
            line = dict(color=col, width=2)
            layout["shapes"].append(dict(type="line", xref="paper", yref="paper", x0=px((g0 + g1) / 2), x1=px((g0 + g1) / 2),
                                         y0=py(ry + 4.5), y1=py(ry - 4.5), line=dict(color=col, width=2), layer="above"))
        layout["shapes"].append(dict(type="line", xref="paper", yref="paper", x0=px(g0), x1=px(g1), y0=py(ry), y1=py(ry),
                                     line=line, layer="above"))
        layout["annotations"].append(dict(xref="paper", yref="paper", x=px(lb["text"]), y=py(ry), text=lab, showarrow=False,
                                          xanchor="left", yanchor="middle", xshift=-1,
                                          font=dict(family="DejaVu Sans", size=7.7, color=TXT)))

scatter_panels = [
    (66.0, 282.3, ignore_rows, "Ignore censoring", 155),
    (376.7, 593.3, drop_rows, "Drop censored data", 466),
    (704.3, 921.3, sh_rows, "S&H 5 iterations", 793),
    (1015.3, 1231, tobit_rows, "Tobit Model", 1104),
]
S_TOP, S_BOT = 318.3, 542.3
for i, (l, r, rows, title, cx) in enumerate(scatter_panels):
    n = i + 5
    m = i + 9
    ax, ay = f"x{n}", f"y{m}"
    layout[f"xaxis{n}"] = dict(AX, domain=[px(l), px(r)], range=[4, 9.7], anchor=ay, tick0=4, dtick=1, tickformat=".1f",
                               tickfont=dict(TICK_FONT, size=10.5), ticklabelstandoff=-2,
                               title=dict(text="predicted log-number of steps", font=dict(TICK_FONT, size=11.3), standoff=1))
    layout[f"yaxis{m}"] = dict(AX, domain=[py(S_BOT), py(S_TOP)], range=[4, 9.7], anchor=ax, tick0=4, dtick=1, tickformat=".1f",
                               tickfont=dict(TICK_FONT, size=10.5),
                               title=dict(text="true log-number of steps", font=dict(TICK_FONT, size=10.8), standoff=3))
    fig.add_trace(go.Scatter(x=[axis_lo, cutoff], y=[axis_lo, cutoff], xaxis=ax, yaxis=ay, mode="lines",
                             line=dict(color="black", width=1.3)))
    fig.add_trace(go.Scatter(x=[axis_lo, cutoff], y=[cutoff, cutoff], xaxis=ax, yaxis=ay, mode="lines",
                             line=dict(color="black", width=1.1, dash="1.5px,1.5px")))
    fig.add_trace(go.Scatter(x=[cutoff, cutoff], y=[axis_lo, cutoff], xaxis=ax, yaxis=ay, mode="lines",
                             line=dict(color="#444444", width=1.4, dash="1.5px,1.5px")))
    xs, ys = flatten(rows)
    order = sorted(range(len(xs)), key=lambda j: draw_rank[cycle[j % len(cycle)]])
    fig.add_trace(go.Scatter(x=[xs[j] for j in order], y=[ys[j] for j in order], xaxis=ax, yaxis=ay, mode="markers",
                             marker=dict(size=3.6, color=[cycle[j % len(cycle)] for j in order], line=dict(width=0))))
    layout["annotations"].append(dict(xref=ax, yref=ay, x=4.15, y=9.4, text="global cutoff", showarrow=False, xanchor="left",
                                      yanchor="middle", font=dict(family="DejaVu Sans", size=11.2, color=TXT)))
    layout["annotations"].append(dict(xref="paper", yref="paper", x=px(cx), y=py(293), text=title, showarrow=False, xanchor="center",
                                      yanchor="middle", font=dict(family="Liberation Serif", size=26.5, color="#111111")))

layout["annotations"].append(dict(xref="paper", yref="paper", x=px(309), y=py(23), text="<i>QCP</i><sub><i>q</i>095</sub>", showarrow=False,
                                  xanchor="center", yanchor="middle", font=dict(family="Liberation Serif", size=29, color="#111111")))
layout["annotations"].append(dict(xref="paper", yref="paper", x=px(951), y=py(20), text="Adult", showarrow=False,
                                  xanchor="center", yanchor="middle",
                                  font=dict(family="Liberation Serif", size=29, color="#111111", style="italic")))
layout["shapes"].append(dict(type="line", xref="paper", yref="paper", x0=0, x1=1, y0=py(271.5), y1=py(271.5),
                             line=dict(color="#555555", width=2)))

fig.update_layout(**layout)
fig.write_html("out.html", post_script="document.body.style.margin='0';", config={"displayModeBar": False})
